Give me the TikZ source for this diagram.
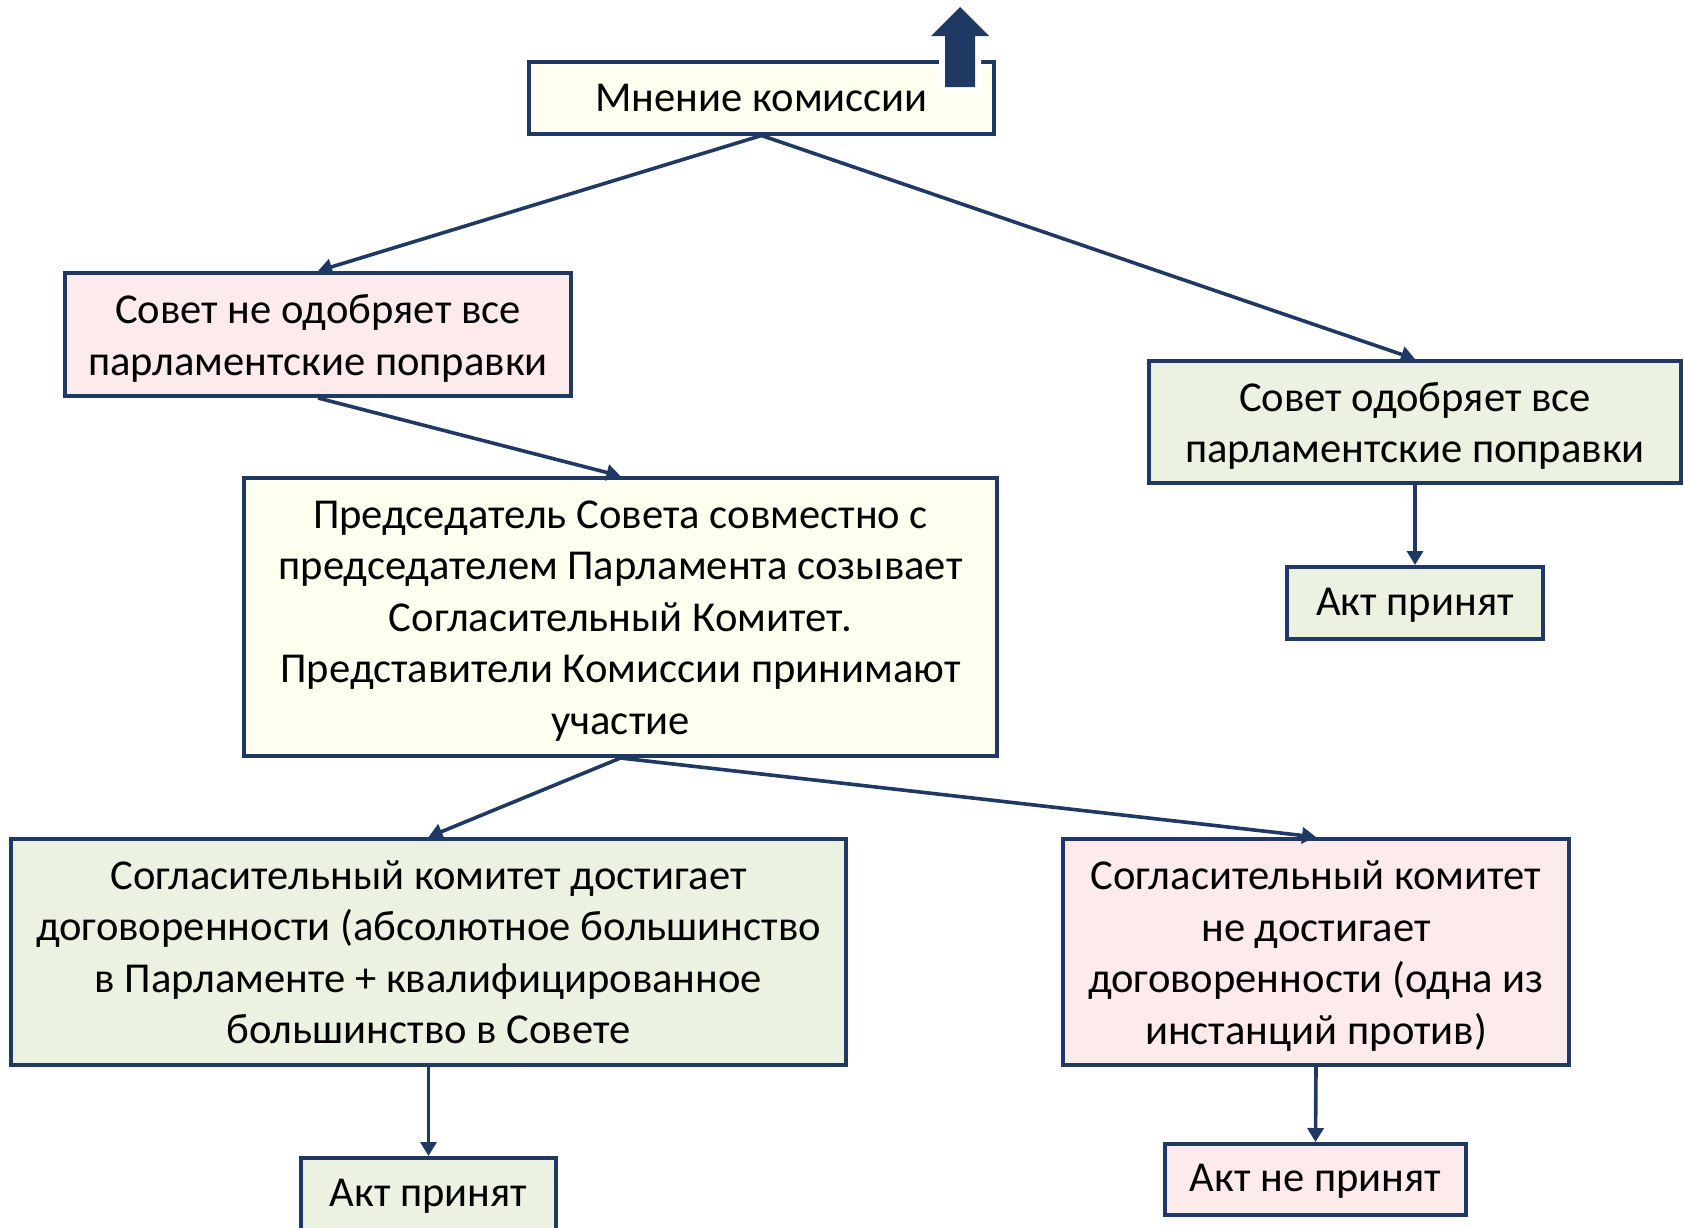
\documentclass[tikz,border=0pt]{standalone}
\usepackage{fontspec}
\setmainfont{Carlito}
\usetikzlibrary{arrows.meta}
\definecolor{navy}{HTML}{1F3864}
\definecolor{creamfill}{HTML}{FFFFF0}
\definecolor{pinkfill}{HTML}{FDEAEA}
\definecolor{greenfill}{HTML}{EBF2E1}
\newcommand\boxfont{\fontsize{21.3pt}{25.75pt}\selectfont}
\tikzset{
  box/.style={draw=navy, line width=2pt, inner sep=0pt, align=flush center, font=\boxfont},
  creambox/.style={box, fill=creamfill},
  pinkbox/.style={box, fill=pinkfill},
  greenbox/.style={box, fill=greenfill},
  lowered/.style={execute at end node={\par\kern-4pt}},
  lowline/.style={text depth=1.2pt},
  link/.style={navy, line width=1.8pt, -{Triangle[length=7pt,width=8pt]}}
}
\begin{document}
\begin{tikzpicture}[x=0.5pt,y=-0.5pt]
            \useasboundingbox (0,0) rectangle (1684,1227);

            \node[creambox, minimum width=232.5pt, minimum height=36pt] (opinion) at (761.5,97.5) {Мнение комиссии};
            \node[pinkbox, lowered, minimum width=253pt, minimum height=61.5pt, text width=245pt] (reject) at (318,334.5)
                {Совет не одобряет все\\парламентские поправки};
            \node[greenbox, lowered, minimum width=266pt, minimum height=61pt, text width=258pt] (accept) at (1415,422)
                {Совет одобряет все\\парламентские поправки};
            \node[greenbox, lowline, minimum width=128pt, minimum height=36pt] (actA) at (1415,603) {Акт принят};
            \node[creambox, lowered, minimum width=376.5pt, minimum height=139pt, text width=370pt] (conciliation) at (620.5,617)
                {Председатель Совета совместно с\\председателем Парламента созывает\\Согласительный Комитет.\\Представители Комиссии принимают\\участие};
            \node[greenbox, minimum width=417.5pt, minimum height=113pt, text width=412pt] (deal) at (428.5,952)
                {Согласительный комитет достигает\\договоренности (абсолютное большинство\\в Парламенте + квалифицированное\\большинство в Совете};
            \node[pinkbox, lowered, minimum width=253pt, minimum height=113pt, text width=247pt] (nodeal) at (1316,952)
                {Согласительный комитет\\не достигает\\договоренности (одна из\\инстанций против)};
            \node[greenbox, lowline, minimum width=127.5pt, minimum height=36pt] (actB) at (428.5,1194) {Акт принят};
            \node[pinkbox, lowline, minimum width=150.5pt, minimum height=35.5pt] (actC) at (1315.5,1179.5) {Акт не принят};

            \draw[link] (opinion.south) -- (reject.north);
            \draw[link] (opinion.south) -- (accept.north);
            \draw[link] (accept.south) -- (actA.north);
            \draw[link] (reject.south) -- (conciliation.north);
            \draw[link] (conciliation.south) -- (deal.north);
            \draw[link] (conciliation.south) -- (nodeal.north);
            \draw[link] (deal.south) -- (actB.north);
            \draw[link] (nodeal.south) -- (actC.north);

            \fill[navy, preaction={draw=white, line width=6pt}]
                (945,87) -- (945,36) -- (931,36) -- (960,7) -- (989,36) -- (975,36) -- (975,87) -- cycle;
        \end{tikzpicture}
\end{document}
